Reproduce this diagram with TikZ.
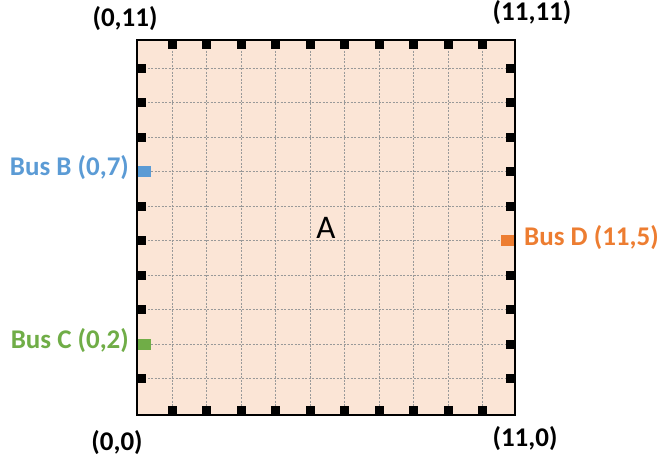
\documentclass[tikz,border=0pt]{standalone}
\usepackage{fontspec}
\setmainfont{Carlito}
\definecolor{fillpeach}{HTML}{FBE5D6}
\definecolor{busblue}{HTML}{5B9BD5}
\definecolor{busgreen}{HTML}{70AD47}
\definecolor{busorange}{HTML}{ED7D31}
\begin{document}
\begin{tikzpicture}[x=1pt,y=-1pt,
  gridline/.style={draw=gray!80, line width=0.6pt, dash pattern=on 2pt off 1.5pt},
  frame/.style={draw=black, line width=2pt, fill=fillpeach},
  pin/.style={fill=black},
  coordlabel/.style={font=\fontsize{27}{31}\selectfont\bfseries, inner sep=0pt},
  buslabel/.style={font=\fontsize{27}{31}\selectfont\bfseries, inner sep=0pt}
]
\useasboundingbox (0,0) rectangle (662,463);
% board
\path[frame] (137,40) rectangle (515,415);
\foreach \k in {1,...,10} {
  \draw[gridline] ({137.5+34.5*\k},40) -- ({137.5+34.5*\k},415);
  \draw[gridline] (137,{413-34.5*\k}) -- (515,{413-34.5*\k});
}
\draw[line width=2pt] (137,40) rectangle (515,415);
% pins top and bottom
\foreach \k in {1,...,10} {
  \fill[pin] ({137.5+34.5*\k-4.5},40) rectangle ++(9,9);
  \fill[pin] ({137.5+34.5*\k-4.5},415) rectangle ++(9,-9);
}
% pins left and right
\foreach \k in {1,3,4,5,6,8,9,10} {
  \fill[pin] (137,{413-34.5*\k-4.5}) rectangle ++(9,9);
}
\foreach \k in {1,2,3,4,6,7,8,9,10} {
  \fill[pin] (515,{413-34.5*\k-4.5}) rectangle ++(-9,9);
}
% bus pins
\fill[busblue] (138,{413-34.5*7-5.5}) rectangle ++(13,11);
\fill[busgreen] (138,{413-34.5*2-5.5}) rectangle ++(13,11);
\fill[busorange] (514,{413-34.5*5-5.5}) rectangle ++(-13,11);
% labels
\node[coordlabel] (c011) at (125,19) {(0,11)};
\node[coordlabel] (c1111) at (532,13) {(11,11)};
\node[coordlabel] (c00) at (117,443) {(0,0)};
\node[coordlabel] (c110) at (525,439) {(11,0)};
\node[buslabel, text=busblue, anchor=east] (busb) at (129,168) {Bus B (0,7)};
\node[buslabel, text=busgreen, anchor=east] (busc) at (129,341) {Bus C (0,2)};
\node[buslabel, text=busorange, anchor=west] (busd) at (524,238) {Bus D (11,5)};
\node[font=\fontsize{33}{37}\selectfont, inner sep=0pt] (a) at (326,228) {A};
\end{tikzpicture}
\end{document}
